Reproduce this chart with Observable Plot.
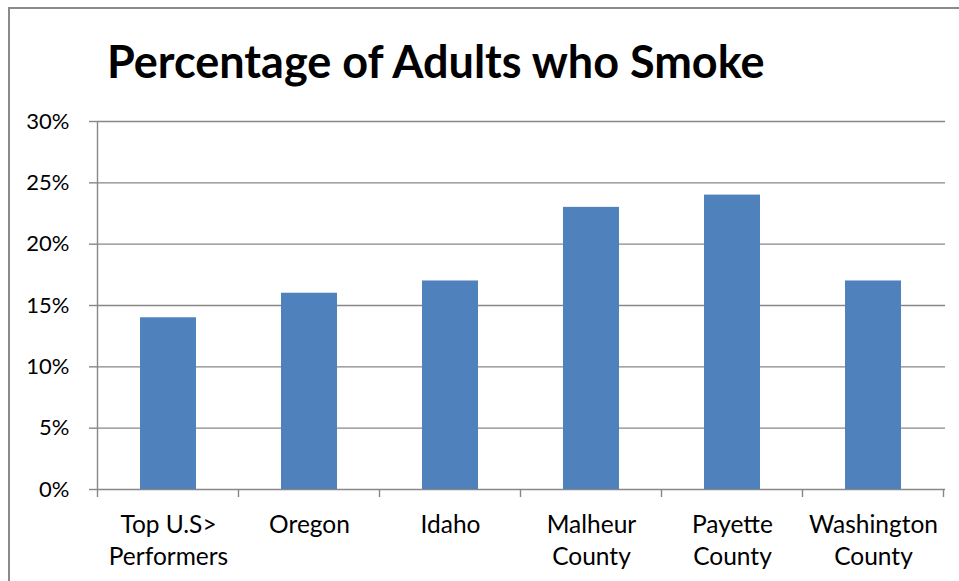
<!DOCTYPE html>
<html>
<head>
<meta charset="utf-8">
<script src="https://cdn.jsdelivr.net/npm/d3@7"></script>
<script src="https://cdn.jsdelivr.net/npm/@observablehq/plot@0.6"></script>
<style>
  html, body { margin: 0; padding: 0; background: #fff; }
  #wrap { position: relative; width: 959px; height: 581px; overflow: hidden; background: #fff; }
  #frame { position: absolute; left: 8px; top: 7px; width: 1000px; height: 700px; border: 2px solid #8a8a8a; box-sizing: border-box; }
  #title { position: absolute; left: 107px; top: 0; height: 100px; width: 852px; box-sizing: border-box;
           padding-top: 39px; font-family: Lato, "Open Sans", sans-serif; font-weight: bold; font-size: 45px; line-height: 1; color: #000; white-space: nowrap; }
  #chart { position: absolute; left: 0; top: 100px; }
</style>
</head>
<body>
<div id="wrap">
  <div id="frame"></div>
  <div id="title">Percentage of Adults who Smoke</div>
  <div id="chart"></div>
</div>
<script>
const titleText = "Percentage of Adults who Smoke";
const categories = ["Top U.S>\nPerformers", "Oregon", "Idaho", "Malheur\nCounty", "Payette\nCounty", "Washington\nCounty"];
const values = [14, 16, 17, 23, 24, 17];
const yTicks = [0, 5, 10, 15, 20, 25, 30];

const data = categories.map((c, i) => ({category: c, value: values[i]}));
const gray = "#878787";

function boundaryTicks(index, scales) {
  const x = scales.x, y = scales.y;
  const step = x.step ? x.step() : x.bandwidth() / 0.4;
  const half = (step - x.bandwidth()) / 2;
  const y0 = y(0);
  const yTop = y(yTicks[yTicks.length - 1]);
  const xs = categories.map(c => x(c) - half);
  xs.push(x(categories[categories.length - 1]) + x.bandwidth() + half);
  const g = d3.create("svg:g");
  g.selectAll("line").data(xs).join("line")
    .attr("x1", d => d).attr("x2", d => d)
    .attr("y1", (d, i) => i === 0 ? yTop : y0)
    .attr("y2", y0 + 8)
    .attr("stroke", gray).attr("stroke-width", 1.4);
  return g.node();
}

const chart = Plot.plot({
  width: 959,
  height: 481,
  marginTop: 21,
  marginBottom: 92,
  marginLeft: 97,
  marginRight: 14,
  style: {fontFamily: "Lato, 'Open Sans', sans-serif", color: "#000", background: "transparent"},
  x: {domain: categories, paddingInner: 0.6, paddingOuter: 0.3, label: null},
  y: {domain: [0, 30], label: null},
  marks: [
    Plot.gridY(yTicks, {stroke: gray, strokeOpacity: 1, strokeWidth: 1.4}),
    Plot.barY(data, {x: "category", y: "value", fill: "#4f81bd"}),
    Plot.axisY(yTicks, {tickSize: 8, tickPadding: 20, stroke: gray, strokeWidth: 1.4, fontSize: 22, tickFormat: d => d + "%", label: null}),
    Plot.axisX({tickSize: 0, tickPadding: 21, fontSize: 24.5, lineHeight: 1.3, label: null}),
    boundaryTicks
  ]
});
document.getElementById("chart").appendChild(chart);
</script>
</body>
</html>
